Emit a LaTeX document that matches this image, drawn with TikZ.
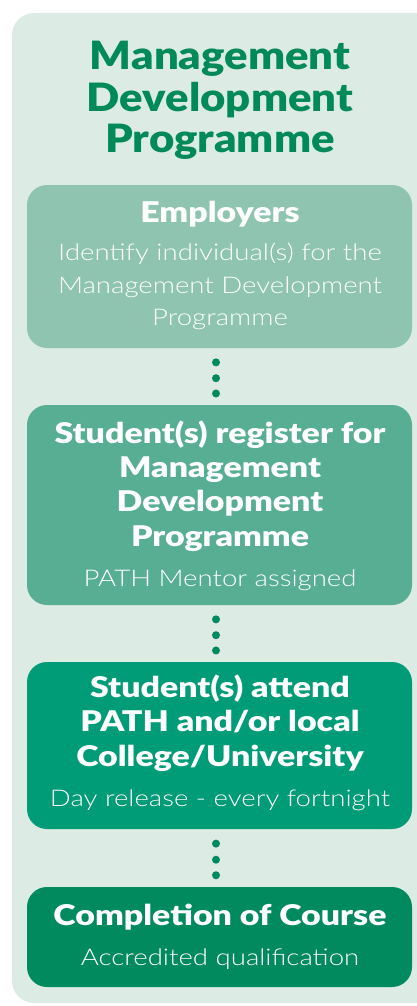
\documentclass[tikz,border=0pt]{standalone}
\usepackage{fontspec}
\setmainfont{Lato}
\newfontfamily\boldfont[FakeStretch=1.12]{Lato Black}
\newfontfamily\headfont[FakeStretch=1.19]{Lato Black}
\newfontfamily\lightfont[FakeStretch=1.2]{Lato Light}
\usetikzlibrary{calc}
\definecolor{panelbg}{HTML}{DCEBE4}
\definecolor{titlegreen}{HTML}{008A5A}
\definecolor{boxA}{HTML}{8EC4B0}
\definecolor{boxB}{HTML}{58AE92}
\definecolor{boxC}{HTML}{009B77}
\definecolor{boxD}{HTML}{008A5E}
\definecolor{dotgreen}{HTML}{008A5E}
\tikzset{
  stagebox/.style={rectangle, rounded corners=20pt, minimum width=385pt, inner sep=0pt, draw=none},
  titletext/.style={anchor=base, text=titlegreen, font=\boldfont\fontsize{39}{44}\selectfont},
  headtext/.style={anchor=base, text=white, font=\headfont\fontsize{28.5}{32}\selectfont},
  subtext/.style={anchor=base, text=white, font=\lightfont\fontsize{23}{28}\selectfont},
  dotmark/.style={circle, fill=dotgreen, minimum size=8pt, inner sep=0pt},
}
\begin{document}
\begin{tikzpicture}[x=1pt,y=-1pt]
\useasboundingbox (0,0) rectangle (417,1006);
\fill[panelbg, rounded corners=22pt] (12,13) rectangle (440,1003);
% title
\node[titletext] (t1) at (220,70) {Management};
\node[titletext] (t2) at (220,112) {Development};
\node[titletext] (t3) at (220,152) {Programme};
% boxes
\node[stagebox, fill=boxA, minimum height=163pt] (b1) at (219.5,266.5) {};
\node[stagebox, fill=boxB, minimum height=200pt] (b2) at (219.5,505) {};
\node[stagebox, fill=boxC, minimum height=167pt] (b3) at (219.5,745.5) {};
\node[stagebox, fill=boxD, minimum height=100pt] (b4) at (219.5,937) {};
% box 1 text
\node[headtext] (h1) at (220,222) {Employers};
\node[subtext] (s1a) at (220,260) {Identify individual(s) for the};
\node[subtext] (s1b) at (220,293) {Management Development};
\node[subtext] (s1c) at (220,325) {Programme};
% box 2 text
\node[headtext] (h2a) at (220,443) {Student(s) register for};
\node[headtext] (h2b) at (220,477) {Management};
\node[headtext] (h2c) at (220,511) {Development};
\node[headtext] (h2d) at (220,546) {Programme};
\node[subtext] (s2) at (220,586) {PATH Mentor assigned};
% box 3 text
\node[headtext] (h3a) at (220,697) {Student(s) attend};
\node[headtext] (h3b) at (220,731) {PATH and/or local};
\node[headtext] (h3c) at (220,766) {College/University};
\node[subtext] (s3) at (220,806) {Day release - every fortnight};
% box 4 text
\node[headtext] (h4) at (220,925) {Completion of Course};
\node[subtext] (s4) at (220,965) {Accredited qualification};
% dotted connectors
\foreach \a/\b/\n in {b1/b2/p, b2/b3/q, b3/b4/r}{
  \foreach \f/\k in {0.25/1, 0.53/2, 0.8/3}{
    \node[dotmark] (\n\k) at ($($(\a.south)!\f!(\b.north)$)+(-3.5,0)$) {};
  }
}
\end{tikzpicture}
\end{document}
